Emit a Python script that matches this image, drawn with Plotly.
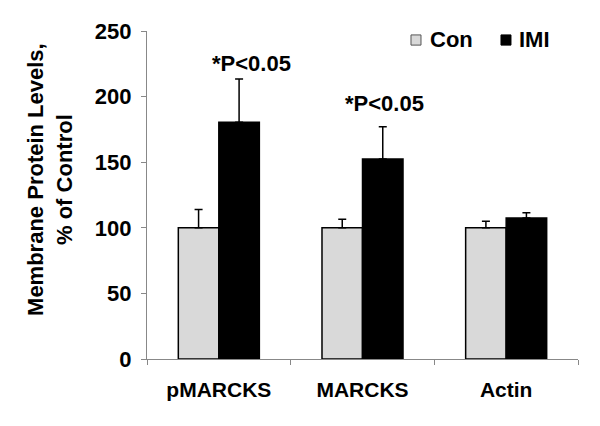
import plotly.graph_objects as go

categories = ["pMARCKS", "MARCKS", "Actin"]
con_values = [100, 100, 100]
con_err = [14, 6.5, 5]
imi_values = [180.5, 152.5, 107.5]
imi_err = [33, 24.5, 4]
y_ticks = [0, 50, 100, 150, 200, 250]

font_main = "Liberation Sans, Arial, sans-serif"
con_color = "#d9d9d9"
imi_color = "black"

# the page body has an 8px margin, so the figure is shifted by it
page_pad = 8

fig = go.Figure()
fig.add_trace(go.Bar(
    x=categories, y=con_values, name="Con",
    marker=dict(color=con_color, line=dict(color="black", width=1.5)),
    error_y=dict(type="data", array=con_err, arrayminus=[0, 0, 0],
                 color="black", thickness=1.5, width=4),
))
fig.add_trace(go.Bar(
    x=categories, y=imi_values, name="IMI",
    marker=dict(color=imi_color, line=dict(color="black", width=1.5)),
    error_y=dict(type="data", array=imi_err, arrayminus=[0, 0, 0],
                 color="black", thickness=1.5, width=4),
))

# significance labels above the IMI bars
label_shift = [(33, 15), (22, 23)]
for i, cat in enumerate(categories[:2]):
    fig.add_annotation(x=cat, y=imi_values[i] + imi_err[i],
                       xshift=label_shift[i][0], yshift=label_shift[i][1],
                       text="<b>*P<0.05</b>", showarrow=False,
                       xanchor="center", yanchor="middle",
                       font=dict(size=22, color="black", family=font_main))

# y axis title
fig.add_annotation(xref="paper", yref="paper", x=-0.225, y=0.546,
                   xanchor="center", yanchor="middle",
                   text="<b>Membrane Protein Levels,<br>% of Control</b>",
                   textangle=-90, showarrow=False,
                   font=dict(size=22, color="black", family=font_main))

# legend drawn by hand (square swatch + bold label)
legend_items = [("Con", con_color, "#555555", 0.6125, 0.652),
                ("IMI", imi_color, "black", 0.8213, 0.8585)]
for name, fill, edge, sx, tx in legend_items:
    fig.add_shape(type="rect", xref="paper", yref="paper",
                  x0=sx, x1=sx + 0.0232, y0=0.957, y1=0.988,
                  fillcolor=fill, line=dict(color=edge, width=1))
    fig.add_annotation(xref="paper", yref="paper", x=tx, y=0.9726,
                       xanchor="left", yanchor="middle", showarrow=False,
                       text=f"<b>{name}</b>",
                       font=dict(size=22, color="black", family=font_main))

fig.update_layout(
    width=600, height=426,
    margin=dict(l=147 - page_pad, r=22 + page_pad, t=31 - page_pad, b=67 + page_pad,
                autoexpand=False),
    plot_bgcolor="white", paper_bgcolor="white",
    barmode="group", bargap=0.436, bargroupgap=0,
    font=dict(family=font_main, size=22, color="black"),
    showlegend=False,
)

fig.update_xaxes(
    showline=True, linecolor="#888888", linewidth=1.2,
    ticks="outside", tickson="boundaries", tickcolor="#888888", ticklen=5,
    tickfont=dict(size=21, family=font_main),
    tickvals=categories, ticktext=[f"<b>{c}</b>" for c in categories],
    ticklabelstandoff=12, automargin=False,
)
fig.update_yaxes(
    range=[0, 250], tickvals=y_ticks, ticktext=[f"<b>{v}</b>" for v in y_ticks],
    showline=True, linecolor="#888888", linewidth=1.2,
    ticks="outside", tickcolor="#888888", ticklen=5,
    showgrid=False, zeroline=False, automargin=False,
    tickfont=dict(size=22, family=font_main), ticklabelstandoff=5,
)

fig.write_html("out.html")
